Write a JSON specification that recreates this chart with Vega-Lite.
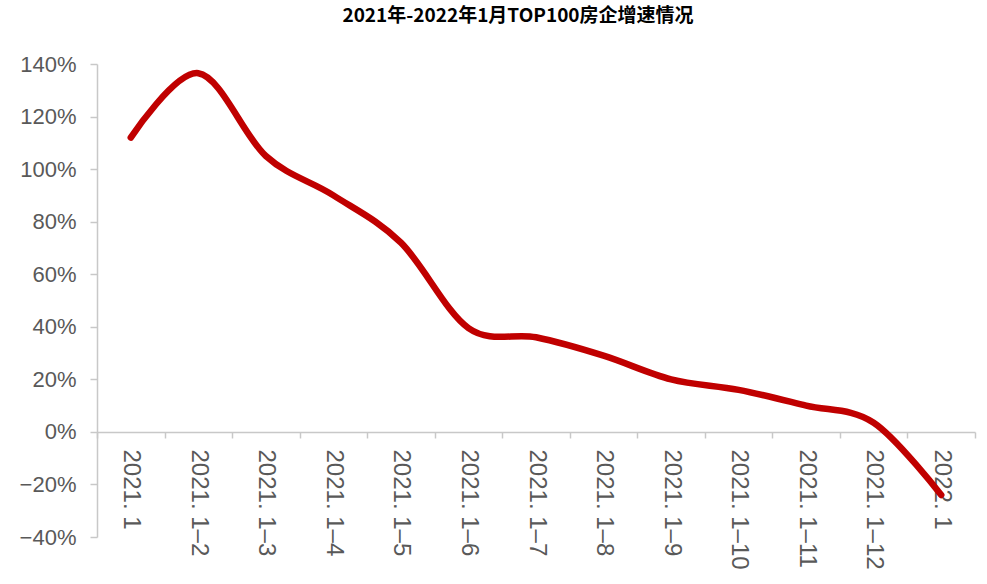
{
  "$schema": "https://vega.github.io/schema/vega-lite/v6.json",
  "width": 878,
  "height": 473,
  "autosize": {"type": "none"},
  "padding": {"left": 97, "top": 64, "right": 12, "bottom": 47},
  "background": "white",
  "title": {
    "text": "2021年-2022年1月TOP100房企增速情况",
    "font": "Noto Sans CJK SC",
    "fontSize": 19,
    "fontWeight": "bold",
    "color": "#000000",
    "anchor": "middle",
    "dx": -18,
    "offset": 27
  },
  "data": {
    "values": [
      {"period": "2021. 1", "growth": 1.12},
      {"period": "2021. 1–2", "growth": 1.365},
      {"period": "2021. 1–3", "growth": 1.05},
      {"period": "2021. 1–4", "growth": 0.90},
      {"period": "2021. 1–5", "growth": 0.72},
      {"period": "2021. 1–6", "growth": 0.395},
      {"period": "2021. 1–7", "growth": 0.36},
      {"period": "2021. 1–8", "growth": 0.29},
      {"period": "2021. 1–9", "growth": 0.20},
      {"period": "2021. 1–10", "growth": 0.16},
      {"period": "2021. 1–11", "growth": 0.10},
      {"period": "2021. 1–12", "growth": 0.035},
      {"period": "2022. 1", "growth": -0.24}
    ]
  },
  "mark": {"type": "line", "color": "#C00000", "strokeWidth": 6.5, "interpolate": "cardinal", "strokeCap": "round"},
  "encoding": {
    "x": {
      "field": "period",
      "type": "ordinal",
      "sort": null,
      "scale": {"paddingInner": 0, "paddingOuter": 0},
      "axis": {
        "title": null,
        "offset": -105,
        "labelAngle": 90,
        "labelFont": "Liberation Sans",
        "labelFontSize": 24,
        "labelColor": "#595959",
        "labelPadding": 11,
        "domainColor": "#c8c8c8",
        "domainWidth": 1.5,
        "tickColor": "#c8c8c8",
        "tickWidth": 1.5,
        "tickSize": 6,
        "tickBand": "extent",
        "grid": false
      }
    },
    "y": {
      "field": "growth",
      "type": "quantitative",
      "scale": {"domain": [-0.4, 1.4], "nice": false},
      "axis": {
        "title": null,
        "format": ".0%",
        "values": [-0.4, -0.2, 0, 0.2, 0.4, 0.6, 0.8, 1.0, 1.2, 1.4],
        "labelFont": "Liberation Sans",
        "labelFontSize": 22,
        "labelColor": "#595959",
        "labelPadding": 14,
        "domainColor": "#c8c8c8",
        "domainWidth": 1.5,
        "tickColor": "#c8c8c8",
        "tickWidth": 1.5,
        "tickSize": 7,
        "grid": false
      }
    }
  },
  "config": {"view": {"stroke": null}}
}
